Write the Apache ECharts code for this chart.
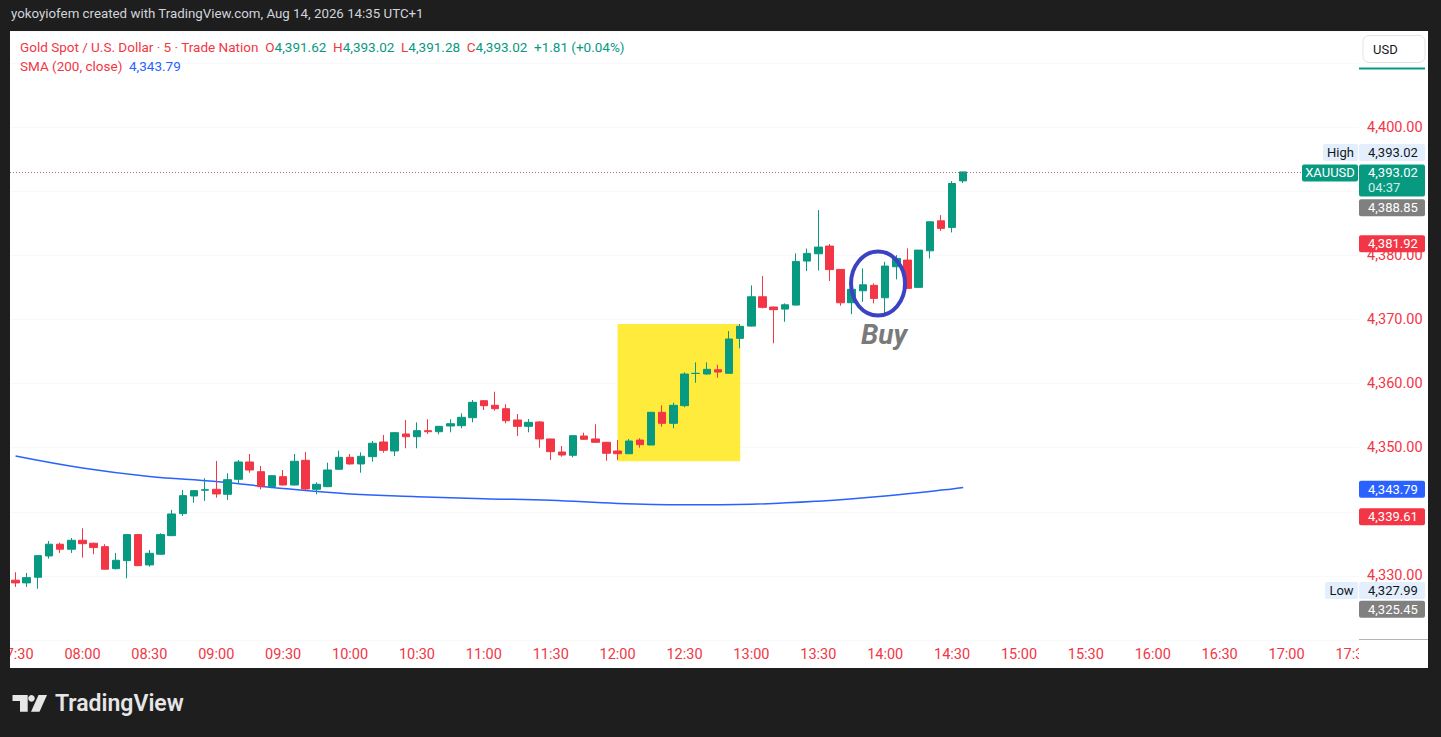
<!DOCTYPE html>
<html><head><meta charset="utf-8">
<script src="https://cdn.jsdelivr.net/npm/echarts@6/dist/echarts.min.js"></script>
<style>html,body{margin:0;padding:0;background:#1e1e1e;overflow:hidden}#c{width:1441px;height:737px}</style>
</head><body><div id="c"></div>
<script>
// ---------- data ----------
const times = [];
for (let m = 7 * 60 + 30; m <= 17 * 60 + 30; m += 5) {
  times.push(String(Math.floor(m / 60)).padStart(2, '0') + ':' + String(m % 60).padStart(2, '0'));
}
const opens = [4329.33,4328.91,4329.79,4333.11,4334.94,4334.16,4335.56,4335.09,4334.56,4331.13,
4332.38,4336.44,4331.71,4333.38,4336.28,4339.71,4342.47,4343.36,4343.51,4342.73,
4345.07,4347.77,4346.26,4343.92,4345.48,4344.18,4348.03,4343.51,4343.92,4346.63,
4348.50,4347.46,4348.60,4350.89,4349.49,4352.14,4351.71,4352.65,4352.49,4353.38,
4353.43,4354.68,4357.33,4356.61,4356.08,4354.32,4353.33,4354.01,4351.36,4349.33,
4348.81,4351.82,4351.36,4350.84,4349.49,4349.06,4351.19,4350.42,4355.52,4353.80,
4356.55,4361.57,4361.49,4362.16,4361.60,4367.06,4368.97,4373.54,4371.94,4371.62,
4372.25,4379.11,4380.25,4381.45,4377.81,4372.61,4374.48,4375.32,4373.39,4378.22,
4379.26,4375.01,4380.71,4385.39,4384.36,4391.62];
const highs = [4330.57,4330.46,4333.16,4335.45,4335.19,4335.92,4337.43,4335.19,4334.94,4333.58,
4336.50,4336.55,4334.05,4336.66,4340.29,4343.41,4343.41,4345.23,4347.93,4346.01,
4348.08,4349.02,4347.15,4345.70,4346.52,4349.02,4349.33,4344.60,4347.66,4349.53,
4349.02,4349.28,4351.04,4351.98,4352.45,4354.32,4353.96,4354.43,4353.40,4354.43,
4355.36,4357.44,4357.40,4358.73,4356.77,4355.25,4354.47,4354.16,4351.40,4350.26,
4351.90,4352.34,4353.65,4350.90,4351.20,4351.36,4351.47,4355.55,4356.61,4357.02,
4361.76,4363.31,4363.31,4362.94,4368.19,4369.29,4375.32,4376.77,4372.00,4372.51,
4380.31,4381.06,4387.06,4381.76,4377.85,4374.75,4377.97,4375.63,4379.00,4380.04,
4381.09,4380.82,4385.24,4386.28,4391.58,4393.02];
const lows = [4328.28,4328.28,4327.99,4332.69,4333.58,4333.58,4332.85,4333.38,4331.00,4331.00,
4329.64,4331.50,4331.45,4333.30,4336.20,4339.35,4341.42,4341.69,4342.20,4341.85,
4344.34,4346.10,4343.51,4343.67,4344.10,4344.10,4343.40,4342.73,4343.85,4346.55,
4347.35,4346.10,4347.82,4349.22,4348.71,4349.91,4349.91,4352.14,4352.09,4352.40,
4353.02,4353.96,4355.88,4355.77,4353.80,4351.82,4352.40,4350.00,4348.08,4348.60,
4348.50,4351.20,4350.78,4347.97,4348.08,4349.00,4350.00,4350.40,4353.27,4353.02,
4356.30,4360.13,4361.38,4360.91,4361.55,4365.50,4368.90,4371.73,4366.28,4369.64,
4372.20,4377.55,4377.63,4375.99,4372.14,4370.84,4372.76,4372.51,4370.95,4376.25,
4374.85,4375.00,4379.53,4383.83,4383.58,4391.28];
const closes = [4328.91,4329.73,4333.16,4334.94,4334.16,4335.56,4335.03,4334.41,4331.04,4332.44,
4336.44,4331.60,4333.53,4336.44,4339.66,4342.52,4343.30,4343.45,4342.78,4345.01,
4347.77,4346.52,4343.92,4345.63,4344.18,4347.88,4343.56,4344.29,4346.52,4348.50,
4347.46,4348.66,4350.69,4349.59,4352.34,4351.71,4352.65,4352.49,4353.33,4353.74,
4354.74,4357.08,4356.55,4356.08,4354.21,4353.33,4353.96,4351.36,4349.38,4348.86,
4351.87,4351.31,4350.84,4349.13,4349.06,4351.04,4350.47,4355.52,4353.80,4356.61,
4361.49,4361.60,4362.22,4361.80,4366.95,4368.93,4373.54,4371.89,4371.52,4372.29,
4379.06,4380.31,4381.29,4377.78,4372.61,4374.70,4375.41,4373.29,4378.33,4379.53,
4374.85,4380.82,4385.24,4384.21,4391.21,4393.02];
const smaTimes  = ['07:30','08:00','08:30','09:00','09:30','10:00','10:30','11:00','11:30','12:00','12:30','13:00','13:30','14:00','14:30','14:35'];
const smaValues = [4348.70,4346.83,4345.51,4344.73,4343.64,4342.78,4342.36,4342.04,4341.80,4341.30,4341.11,4341.19,4341.66,4342.47,4343.56,4343.79];
const yTickLabels = ['4,330.00','4,350.00','4,360.00','4,370.00','4,380.00','4,400.00'];
const zoneTimes  = ['12:00','12:55'];
const zonePrices = [4369.3, 4347.9];
const buyAnchor  = ['13:55', 4375.6];
const otherLevels = [4388.85, 4381.92, 4339.61, 4325.45];
const countdown = '04:37';

// ---------- helpers ----------
const fmt = v => v.toLocaleString('en-US', {minimumFractionDigits: 2, maximumFractionDigits: 2});
const UP = '#089981', DOWN = '#f23645', RED = '#f23645', FONT = 'Roboto';
const n = closes.length;
const lastO = opens[n-1], lastH = highs[n-1], lastL = lows[n-1], lastC = closes[n-1];
const chg = lastC - closes[n-2];
const pct = chg / closes[n-2] * 100;
const visHigh = Math.max(...highs), visLow = Math.min(...lows);
const smaLast = smaValues[smaValues.length - 1];

const chart = echarts.init(document.getElementById('c'), null, {renderer: 'svg', width: 1441, height: 737});
chart.setOption({
  animation: false,
  backgroundColor: 'transparent',
  textStyle: {fontFamily: FONT},
  grid: {left: 10, right: 82, top: 31, bottom: 97, containLabel: false, outerBoundsMode: 'none'},
  xAxis: {
    type: 'category', data: times, boundaryGap: true,
    axisLine: {show: false}, axisTick: {show: false}, splitLine: {show: false},
    axisLabel: {interval: 5, color: RED, fontSize: 14.5, margin: 7, fontFamily: FONT}
  },
  yAxis: {
    type: 'value', position: 'right', min: 4320, max: 4415, interval: 10, scale: true,
    axisLine: {show: false}, axisTick: {show: false},
    splitLine: {lineStyle: {color: '#f8f9fb'}},
    axisLabel: {
      color: RED, fontSize: 14.5, margin: 8, fontFamily: FONT,
      formatter: v => { const s = fmt(v); return yTickLabels.indexOf(s) >= 0 ? s : ''; }
    }
  },
  series: [
    {
      type: 'line', name: 'zone', data: [], z: 1, silent: true,
      markArea: {
        silent: true, itemStyle: {color: '#ffeb3b', opacity: 1},
        data: [[{xAxis: zoneTimes[0], yAxis: zonePrices[0]}, {xAxis: zoneTimes[1], yAxis: zonePrices[1]}]]
      }
    },
    {
      type: 'line', name: 'SMA', z: 2, silent: true,
      data: smaTimes.map((t, i) => [t, smaValues[i]]),
      smooth: 0.4, symbol: 'none', lineStyle: {color: '#2962ff', width: 1.5}
    },
    {
      type: 'candlestick', name: 'XAUUSD', z: 3, barWidth: 8,
      data: opens.map((o, i) => [o, closes[i], lows[i], highs[i]]),
      itemStyle: {color: UP, color0: DOWN, borderColor: UP, borderColor0: DOWN, borderWidth: 1},
      markLine: {
        silent: true, symbol: 'none', label: {show: false},
        lineStyle: {color: '#b0668a', type: [1, 2], width: 1},
        data: [{yAxis: lastC}]
      }
    }
  ]
});

// ---------- overlay graphics (positions from library scales) ----------
const P = (t, v) => chart.convertToPixel({gridIndex: 0}, [t, v]);
const yv = v => P(times[0], v)[1];
const g = [];
const TS = {fontSize: 13, fontFamily: FONT, verticalAlign: 'middle', lineHeight: 13};
// panel & frame
g.push({type: 'rect', z: -100, shape: {x: 10, y: 31, width: 1418, height: 637}, style: {fill: '#ffffff'}});
g.push({type: 'text', z: 10, x: 11, y: 13, style: {text: 'yokoyiofem created with TradingView.com, Aug 14, 2026 14:35 UTC+1', fill: '#d1d4dc', fontSize: 13.3, fontFamily: FONT, verticalAlign: 'middle'}});
// legend
g.push({type: 'text', z: 10, x: 20, y: 47, style: {
  text: '{r|Gold Spot / U.S. Dollar · 5 · Trade Nation}  {r|O}{g|' + fmt(lastO) + '}  {r|H}{g|' + fmt(lastH) + '}  {r|L}{g|' + fmt(lastL) + '}  {r|C}{g|' + fmt(lastC) + '}  {g|' + (chg >= 0 ? '+' : '') + chg.toFixed(2) + ' (' + (pct >= 0 ? '+' : '') + pct.toFixed(2) + '%)}',
  verticalAlign: 'middle', fontSize: 13.5, fontFamily: FONT, fill: RED,
  rich: {r: {fill: RED, fontSize: 13.5, fontFamily: FONT}, g: {fill: UP, fontSize: 13.5, fontFamily: FONT}}
}});
g.push({type: 'text', z: 10, x: 20, y: 66, style: {
  text: '{r|SMA (200, close)}  {b|' + fmt(smaLast) + '}', verticalAlign: 'middle', fontSize: 13.5, fontFamily: FONT,
  rich: {r: {fill: RED, fontSize: 13.5, fontFamily: FONT}, b: {fill: '#2962ff', fontSize: 13.5, fontFamily: FONT}}
}});
// USD button
g.push({type: 'rect', z: 10, shape: {x: 1363, y: 35.5, width: 62, height: 27, r: 6}, style: {fill: '#fff', stroke: '#e0e3eb', lineWidth: 1}});
g.push({type: 'text', z: 11, x: 1373, y: 49, style: {text: 'USD', fill: '#131722', fontSize: 13, fontFamily: FONT, verticalAlign: 'middle'}});
g.push({type: 'rect', z: 10, shape: {x: 1359, y: 67.5, width: 66, height: 2}, style: {fill: UP}});
// axis corner covers
g.push({type: 'rect', z: 100, shape: {x: 1359, y: 640, width: 69, height: 28}, style: {fill: '#fff'}});
g.push({type: 'line', z: 101, shape: {x1: 1359, y1: 639.5, x2: 1428, y2: 639.5}, style: {stroke: '#b2b5be', lineWidth: 1}});
g.push({type: 'rect', z: 100, shape: {x: 0, y: 636, width: 10, height: 40}, style: {fill: '#1e1e1e'}});

function tag(yc, text, bg, fg, h) {
  h = h || 17;
  g.push({type: 'rect', z: 50, shape: {x: 1359, y: yc - h / 2, width: 66, height: h, r: 2}, style: {fill: bg}});
  g.push({type: 'text', z: 51, x: 1368, y: yc, style: Object.assign({text: text, fill: fg}, TS)});
}
function side(yc, text, x, w, bg, fg) {
  g.push({type: 'rect', z: 50, shape: {x: x, y: yc - 8.5, width: w, height: 17, r: 2}, style: {fill: bg}});
  g.push({type: 'text', z: 51, x: x + w / 2, y: yc, style: Object.assign({text: text, fill: fg, align: 'center'}, TS)});
}
const LB = '#e3effd', INK = '#131722';
// High
let yH = yv(visHigh) - 19.5;
side(yH, 'High', 1323, 35, LB, INK); tag(yH, fmt(visHigh), LB, INK);
// Last price with countdown
let yL = yv(lastC) + 1;
side(yL, 'XAUUSD', 1302, 56, UP, '#fff');
g.push({type: 'rect', z: 50, shape: {x: 1359, y: yL - 8.5, width: 66, height: 32, r: 2}, style: {fill: UP}});
g.push({type: 'text', z: 51, x: 1368, y: yL, style: Object.assign({text: fmt(lastC), fill: '#fff'}, TS)});
g.push({type: 'text', z: 51, x: 1368, y: yL + 14.5, style: Object.assign({text: countdown, fill: '#cfeee6'}, TS)});
// other levels
tag(yv(otherLevels[0]) + 9, fmt(otherLevels[0]), '#808080', '#fff');
tag(yv(otherLevels[1]) + 0.6, fmt(otherLevels[1]), RED, '#fff');
tag(yv(smaLast) + 1.8, fmt(smaLast), '#2962ff', '#fff');
tag(yv(otherLevels[2]) + 2.4, fmt(otherLevels[2]), RED, '#fff');
let yLo = yv(visLow) + 1.6;
side(yLo, 'Low', 1325, 33, LB, INK); tag(yLo, fmt(visLow), LB, INK);
tag(yv(otherLevels[3]) + 4.3, fmt(otherLevels[3]), '#808080', '#fff');

// Buy annotation
const bp = P(buyAnchor[0], buyAnchor[1]);
g.push({type: 'ellipse', z: 40, shape: {cx: bp[0] + 4, cy: bp[1], rx: 27, ry: 32}, style: {fill: 'none', stroke: '#3b42c4', lineWidth: 4}});
g.push({type: 'text', z: 40, x: bp[0] + 10, y: bp[1] + 51, style: {text: 'Buy', fill: '#7a7a7a', fontSize: 28, fontWeight: 'bold', fontStyle: 'italic', fontFamily: FONT, align: 'center', verticalAlign: 'middle'}});

// TradingView logo
g.push({type: 'polygon', z: 10, shape: {points: [[12.5,695],[27.7,695],[27.7,711.7],[20,711.7],[20,701],[12.5,701]]}, style: {fill: '#e6e6e6'}});
g.push({type: 'circle', z: 10, shape: {cx: 31.5, cy: 698.3, r: 3.3}, style: {fill: '#e6e6e6'}});
g.push({type: 'polygon', z: 10, shape: {points: [[38.5,695],[47,695],[39.5,711.7],[31,711.7]]}, style: {fill: '#e6e6e6'}});
g.push({type: 'text', z: 10, x: 55, y: 703.5, style: {text: 'TradingView', fill: '#e6e6e6', fontSize: 23, fontWeight: 600, fontFamily: FONT, verticalAlign: 'middle'}});

chart.setOption({graphic: {elements: g}});
</script>
</body></html>
